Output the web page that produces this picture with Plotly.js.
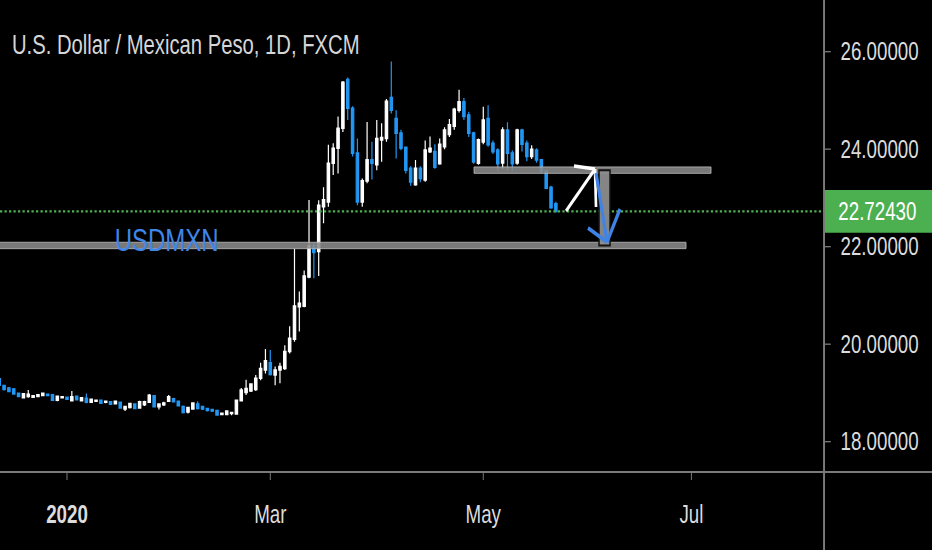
<!DOCTYPE html>
<html>
<head>
<meta charset="utf-8">
<script src="https://cdn.plot.ly/plotly-3.0.1.min.js"></script>
<style>
html,body{margin:0;padding:0;background:#000;overflow:hidden;width:932px;height:550px;}
#chart{width:1243px;height:550px;transform:scaleX(0.7498);transform-origin:0 0;}
</style>
</head>
<body>
<div id="chart"></div>
<script>
// ---- data ----
const dates = [
 '2019-12-11','2019-12-12','2019-12-13','2019-12-16','2019-12-17','2019-12-18','2019-12-19','2019-12-20',
 '2019-12-23','2019-12-24','2019-12-26','2019-12-27','2019-12-30','2019-12-31',
 '2020-01-02','2020-01-03','2020-01-06','2020-01-07','2020-01-08','2020-01-09','2020-01-10',
 '2020-01-13','2020-01-14','2020-01-15','2020-01-16','2020-01-17','2020-01-20','2020-01-21','2020-01-22',
 '2020-01-23','2020-01-24','2020-01-27','2020-01-28','2020-01-29','2020-01-30','2020-01-31',
 '2020-02-03','2020-02-04','2020-02-05','2020-02-06','2020-02-07','2020-02-10','2020-02-11','2020-02-12',
 '2020-02-13','2020-02-14','2020-02-17','2020-02-18','2020-02-19','2020-02-20','2020-02-21',
 '2020-02-24','2020-02-25','2020-02-26','2020-02-27','2020-02-28',
 '2020-03-02','2020-03-03','2020-03-04','2020-03-05','2020-03-06','2020-03-09','2020-03-10','2020-03-11',
 '2020-03-12','2020-03-13','2020-03-16','2020-03-17','2020-03-18','2020-03-19','2020-03-20',
 '2020-03-23','2020-03-24','2020-03-25','2020-03-26','2020-03-27','2020-03-30','2020-03-31',
 '2020-04-01','2020-04-02','2020-04-03','2020-04-06','2020-04-07','2020-04-08','2020-04-09','2020-04-10',
 '2020-04-13','2020-04-14','2020-04-15','2020-04-16','2020-04-17','2020-04-20','2020-04-21','2020-04-22',
 '2020-04-23','2020-04-24','2020-04-27','2020-04-28','2020-04-29','2020-04-30',
 '2020-05-01','2020-05-04','2020-05-05','2020-05-06','2020-05-07','2020-05-08','2020-05-11','2020-05-12',
 '2020-05-13','2020-05-14','2020-05-15','2020-05-18','2020-05-19','2020-05-20','2020-05-21','2020-05-22'
];
const opens = [
 19.29,19.15,19.10,19.08,18.99,18.90,18.93,18.91,
 18.93,18.95,18.97,18.96,18.85,18.90,
 18.91,18.84,18.93,18.84,18.89,18.81,18.83,
 18.85,18.81,18.82,18.78,18.81,18.67,18.70,18.77,
 18.69,18.76,18.81,18.94,18.72,18.76,18.83,
 18.88,18.83,18.72,18.61,18.67,18.77,18.72,18.68,
 18.66,18.64,18.56,18.56,18.58,18.57,18.84,
 19.01,19.04,19.07,19.30,19.47,
 19.62,19.37,19.47,19.50,19.85,20.10,20.77,20.78,
 21.38,22.02,21.90,22.82,22.92,23.71,24.02,
 24.43,25.43,24.84,23.92,22.92,23.35,23.78,
 23.68,24.19,24.22,25.06,24.63,24.33,24.04,23.61,
 23.27,23.61,23.37,23.95,23.95,23.70,24.05,24.30,
 24.47,24.80,24.97,24.70,24.33,23.71,
 24.15,24.63,24.12,23.98,23.72,24.39,23.92,23.72,
 24.39,24.12,23.85,23.98,23.78,23.55,23.22,22.88
];
const highs = [
 19.33,19.17,19.12,19.10,19.00,19.00,19.06,18.95,
 18.97,19.00,18.98,18.97,18.94,18.93,
 18.92,19.04,18.94,18.91,18.99,18.88,18.86,
 18.86,18.84,18.83,18.84,18.82,18.73,18.80,18.79,
 18.84,18.84,18.98,18.96,18.78,18.82,18.96,
 18.90,18.84,18.74,18.71,18.80,18.83,18.73,18.69,
 18.67,18.65,18.59,18.64,18.61,18.86,19.10,
 19.27,19.20,19.37,19.62,19.90,
 19.88,19.54,19.62,19.98,20.37,21.95,21.08,21.51,
 22.96,22.08,22.95,23.22,24.09,24.12,24.67,
 25.40,25.47,24.88,24.22,23.40,24.56,24.15,
 24.60,24.53,25.03,25.80,24.80,24.40,24.05,23.65,
 23.78,23.65,24.18,24.26,24.10,24.22,24.45,24.62,
 24.85,25.22,25.05,24.77,24.36,24.22,
 24.87,24.90,24.18,24.02,24.45,24.55,23.98,24.42,
 24.42,24.18,24.08,24.02,23.80,23.58,23.25,22.92
];
const lows = [
 19.15,19.05,19.02,18.97,18.92,18.89,18.90,18.90,
 18.92,18.94,18.94,18.84,18.83,18.89,
 18.86,18.83,18.85,18.83,18.79,18.80,18.82,
 18.78,18.79,18.76,18.77,18.68,18.63,18.68,18.67,
 18.68,18.73,18.80,18.71,18.66,18.73,18.82,
 18.81,18.72,18.58,18.58,18.66,18.66,18.65,18.62,
 18.61,18.54,18.55,18.54,18.54,18.55,18.83,
 18.96,19.02,19.04,19.26,19.40,
 19.36,19.16,19.20,19.47,19.81,20.05,20.26,20.76,
 21.35,21.35,21.40,22.48,22.82,23.47,23.50,
 24.35,24.60,23.85,22.85,22.82,23.30,23.38,
 23.57,23.74,24.15,24.73,23.81,23.98,23.50,23.25,
 23.25,23.32,23.33,23.92,23.60,23.68,24.00,24.25,
 24.40,24.75,24.60,24.25,23.70,23.68,
 24.10,24.05,23.90,23.55,23.60,23.55,23.55,23.68,
 23.95,23.75,23.80,23.72,23.50,23.18,22.78,22.70
];
const closes = [
 19.16,19.07,19.03,18.98,18.93,18.98,18.97,18.94,
 18.96,18.99,18.95,18.85,18.93,18.92,
 18.87,18.92,18.86,18.90,18.81,18.87,18.85,
 18.79,18.83,18.77,18.83,18.69,18.72,18.78,18.68,
 18.82,18.82,18.95,18.72,18.77,18.79,18.92,
 18.82,18.74,18.60,18.70,18.79,18.68,18.67,18.64,
 18.63,18.55,18.58,18.63,18.60,18.85,19.06,
 19.09,19.18,19.30,19.50,19.66,
 19.38,19.47,19.54,19.85,20.12,20.78,20.84,21.40,
 22.02,21.88,22.85,22.96,23.71,24.02,24.43,
 25.37,24.84,23.92,22.92,23.35,23.78,23.71,
 24.22,24.24,24.98,24.80,24.33,24.02,23.57,23.33,
 23.61,23.40,23.98,24.02,23.63,24.10,24.39,24.50,
 24.82,24.97,24.67,24.33,23.74,24.19,
 24.60,24.09,23.95,23.70,24.39,23.92,23.70,24.39,
 24.10,23.85,24.00,23.78,23.55,23.20,22.80,22.7243
];
const lastPrice = 22.7243;
const lastPriceLabel = '22.72430';
const yTickVals = [18, 20, 22, 24, 26];
const yTickText = ['18.00000', '20.00000', '22.00000', '24.00000', '26.00000'];
const xTickVals = ['2020-01-02', '2020-03-02', '2020-05-01', '2020-07-01'];
const xTickText = ['<b>2020</b>', 'Mar', 'May', 'Jul'];
const holidays = ['2019-12-25', '2020-01-01'];
const supportLevel = 22.025;
const resistanceLevel = 23.57;
const chartTitle = 'U.S. Dollar / Mexican Peso, 1D, FXCM';
const symbolText = 'USDMXN';

// ---- layout geometry ----
// The figure is laid out 1243 px wide and condensed horizontally to 932 px (as the reference is).
const W = 1243, H = 550, mR = 144, mB = 78;
const refPlotW = 824, refPlotH = 472, refW = 932;   // reference pixel frame
const px = v => v / refPlotW;         // reference pixel -> paper x
const py = v => 1 - v / refPlotH;     // reference pixel -> paper y
const FONT = '"Liberation Sans", Arial, sans-serif';
const bandHalf = 0.066;

const candle = {
  type: 'candlestick',
  x: dates, open: opens, high: highs, low: lows, close: closes,
  increasing: {line: {color: '#ffffff', width: 1.6}, fillcolor: '#ffffff'},
  decreasing: {line: {color: '#2196f3', width: 1.6}, fillcolor: '#2196f3'},
  hoverinfo: 'skip', showlegend: false
};

function seg(x0, y0, x1, y1, color, width) {
  return {type: 'line', xref: 'paper', yref: 'paper',
    x0: px(x0), y0: py(y0), x1: px(x1), y1: py(y1),
    line: {color: color, width: width}};
}

const shapes = [
  // last price dotted line
  {type: 'line', xref: 'paper', yref: 'y', x0: 0, x1: 1, y0: lastPrice, y1: lastPrice,
   line: {color: '#4caf50', width: 2.2, dash: '3px,3px'}},
  // support band
  {type: 'rect', xref: 'paper', yref: 'y', x0: -0.01, x1: px(686),
   y0: supportLevel - bandHalf, y1: supportLevel + bandHalf,
   fillcolor: 'rgba(138,138,138,0.88)', line: {color: 'rgba(190,190,190,0.9)', width: 1}},
  // resistance band
  {type: 'rect', xref: 'paper', yref: 'y', x0: px(474), x1: px(711),
   y0: resistanceLevel - bandHalf, y1: resistanceLevel + bandHalf,
   fillcolor: 'rgba(138,138,138,0.88)', line: {color: 'rgba(190,190,190,0.9)', width: 1}},
  // vertical measure bar
  {type: 'rect', xref: 'paper', yref: 'y', x0: px(599), x1: px(610),
   y0: supportLevel, y1: resistanceLevel,
   fillcolor: 'rgba(140,140,140,0.95)', line: {color: '#111111', width: 2}},
  // white arrow
  seg(566, 211, 595, 169, '#ffffff', 3.6),
  seg(595, 169, 574, 166, '#ffffff', 3.6),
  seg(595, 169, 596, 207, '#ffffff', 3.6),
  // blue arrow
  seg(596, 173, 607, 242, '#3f83e6', 4.2),
  seg(607, 242, 588, 228, '#3f83e6', 4.2),
  seg(607, 242, 620, 209, '#3f83e6', 4.2),
  // price label box
  {type: 'rect', xref: 'paper', yref: 'y', x0: 1, x1: refW / refPlotW,
   y0: lastPrice - 0.44, y1: lastPrice + 0.44, fillcolor: '#4caf50', line: {width: 0}},
  // axis lines (extended as in the reference)
  {type: 'line', xref: 'paper', yref: 'paper', x0: 1, x1: 1, y0: -mB / refPlotH, y1: 1,
   line: {color: '#7a7a7a', width: 2.6}},
  {type: 'line', xref: 'paper', yref: 'paper', x0: 0, x1: refW / refPlotW, y0: 0, y1: 0,
   line: {color: '#7a7a7a', width: 2}}
];

const annotations = [
  {xref: 'paper', yref: 'paper', x: px(167), y: py(240), text: symbolText, showarrow: false,
   xanchor: 'center', yanchor: 'middle', font: {family: FONT, size: 32, color: '#3f86e8'}},
  {xref: 'paper', yref: 'y', x: px(877), y: lastPrice, text: lastPriceLabel, showarrow: false,
   xanchor: 'center', yanchor: 'middle', font: {family: FONT, size: 25, color: '#ffffff'}}
];

const layout = {
  width: W, height: H,
  margin: {l: 0, r: mR, t: 0, b: mB, pad: 0},
  paper_bgcolor: '#000000', plot_bgcolor: '#000000',
  title: {text: chartTitle, xref: 'container', yref: 'container', x: 12 / refW, xanchor: 'left',
          y: 1 - 45 / H, yanchor: 'middle', font: {family: FONT, size: 27, color: '#d6d6d6'}},
  showlegend: false,
  hovermode: false,
  xaxis: {
    type: 'date',
    range: ['2019-12-11 03:50', '2020-08-07 09:36'],
    rangebreaks: [{bounds: ['sat', 'mon']}, {values: holidays}],
    rangeslider: {visible: false},
    tickmode: 'array', tickvals: xTickVals, ticktext: xTickText,
    ticks: 'outside', ticklen: 7, tickwidth: 1.3, tickcolor: '#7a7a7a',
    ticklabelstandoff: 13,
    tickfont: {family: FONT, size: 25, color: '#dcdcdc'},
    showgrid: false, zeroline: false, showline: false, fixedrange: true
  },
  yaxis: {
    side: 'right',
    range: [17.378, 27.06],
    tickmode: 'array', tickvals: yTickVals, ticktext: yTickText,
    ticks: 'outside', ticklen: 8, tickwidth: 1.3, tickcolor: '#7a7a7a',
    ticklabelstandoff: 8,
    tickfont: {family: FONT, size: 25, color: '#dcdcdc'},
    showgrid: false, zeroline: false, showline: false, fixedrange: true
  },
  shapes: shapes,
  annotations: annotations
};

Plotly.newPlot('chart', [candle], layout, {staticPlot: true, displayModeBar: false});
</script>
</body>
</html>
